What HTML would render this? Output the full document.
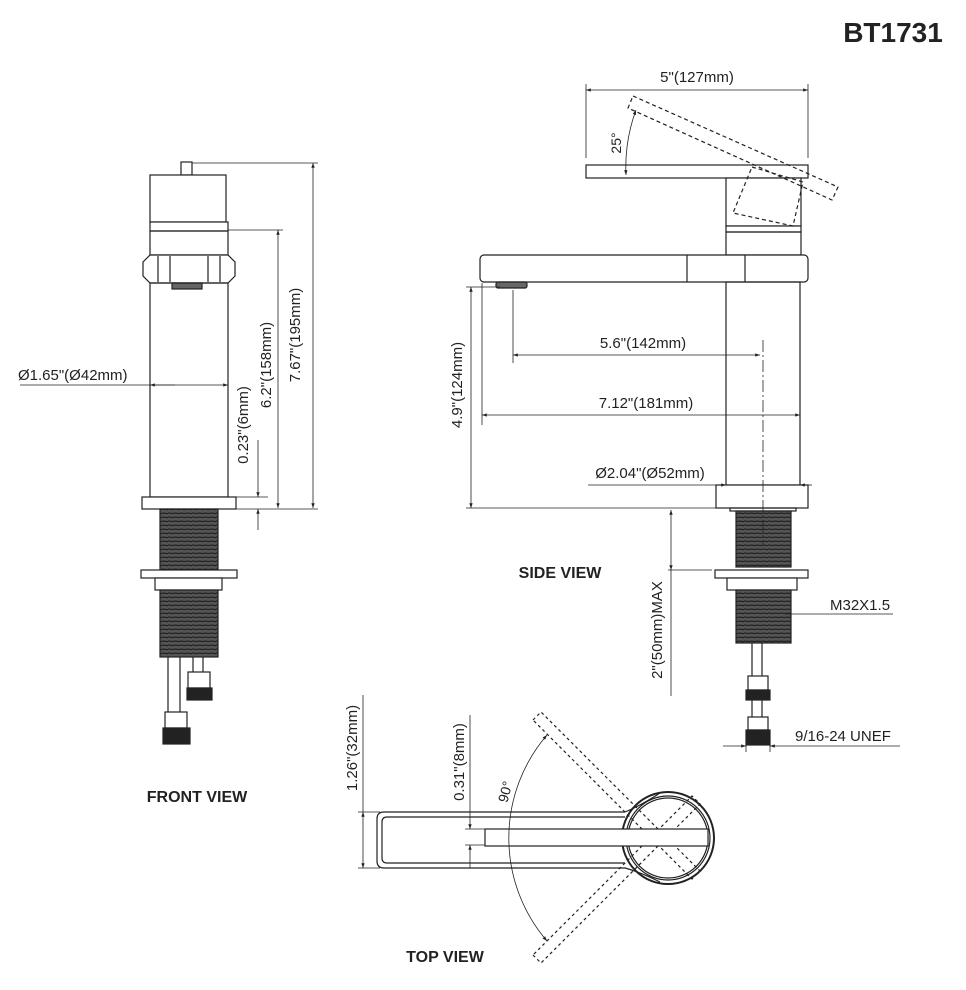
<!DOCTYPE html>
<html><head><meta charset="utf-8"><style>
html,body{margin:0;padding:0;background:#fff;}
svg{display:block}
text{font-family:"Liberation Sans",sans-serif;fill:#222}
</style></head><body>
<svg width="966" height="990" viewBox="0 0 966 990" xmlns="http://www.w3.org/2000/svg">
<defs>
<marker id="a" viewBox="0 0 10 10" refX="10" refY="5" markerWidth="8" markerHeight="6" orient="auto-start-reverse"><path d="M0,1.5 L10,5 L0,8.5z" fill="#222"/></marker>
<pattern id="th" width="6" height="4" patternUnits="userSpaceOnUse"><rect width="6" height="4" fill="#555"/><line x1="0" y1="1" x2="6" y2="1.6" stroke="#222" stroke-width="1.3"/></pattern>
</defs>
<g fill="none" stroke="#222" stroke-width="1.2">
<!-- FRONT VIEW -->
<rect x="181" y="162" width="11" height="13" fill="#fff"/>
<rect x="150" y="175" width="76" height="47" fill="#fff"/>
<rect x="150" y="222" width="78" height="9" fill="#fff"/>
<rect x="150" y="231" width="78" height="24"/>
<path d="M150,255 L228,255 L235,262 L235,276 L228,283 L150,283 L143,276 L143,262z" fill="#fff"/>
<line x1="158" y1="256" x2="158" y2="282"/><line x1="220" y1="256" x2="220" y2="282"/><line x1="170" y1="256" x2="170" y2="282"/><line x1="208" y1="256" x2="208" y2="282"/>
<rect x="172" y="283" width="30" height="6" fill="#666"/>
<rect x="150" y="283" width="78" height="214"/>
<rect x="142" y="497" width="94" height="12" fill="#fff"/>
<rect x="160" y="509" width="58" height="61" fill="url(#th)"/>
<rect x="141" y="570" width="96" height="8" fill="#fff"/>
<rect x="155" y="578" width="67" height="12" fill="#fff"/>
<rect x="160" y="590" width="58" height="67" fill="url(#th)"/>
<line x1="168" y1="657" x2="168" y2="712"/><line x1="180" y1="657" x2="180" y2="712"/>
<line x1="193" y1="657" x2="193" y2="672"/><line x1="203" y1="657" x2="203" y2="672"/>
<rect x="188" y="672" width="22" height="16" fill="#fff"/><rect x="187" y="688" width="25" height="12" fill="#222"/>
<rect x="165" y="712" width="22" height="16" fill="#fff"/><rect x="163" y="728" width="27" height="16" fill="#222"/>
<g stroke-width="0.8">
<line x1="192" y1="163" x2="318" y2="163"/><line x1="313" y1="163" x2="313" y2="508" marker-start="url(#a)" marker-end="url(#a)"/>
<line x1="228" y1="230" x2="283" y2="230"/><line x1="278" y1="230" x2="278" y2="508" marker-start="url(#a)" marker-end="url(#a)"/>
<line x1="236" y1="497" x2="268" y2="497"/><line x1="236" y1="509" x2="318" y2="509"/>
<line x1="258" y1="440" x2="258" y2="497" marker-end="url(#a)"/><line x1="258" y1="530" x2="258" y2="509" marker-end="url(#a)"/>
<line x1="20" y1="385" x2="228" y2="385" marker-end="url(#a)"/><line x1="175" y1="385" x2="150" y2="385" marker-end="url(#a)"/>
</g>
<!-- SIDE VIEW -->
<rect x="586" y="165" width="222" height="13" fill="#fff"/>
<rect x="726" y="178" width="75" height="48" fill="#fff"/>
<rect x="726" y="226" width="75" height="6" fill="#fff"/>
<rect x="726" y="232" width="75" height="23"/>
<rect x="480" y="255" width="328" height="27" rx="4" fill="#fff"/>
<line x1="687" y1="255" x2="687" y2="282"/><line x1="745" y1="255" x2="745" y2="282"/>
<rect x="496" y="282" width="31" height="6" rx="2" fill="#666"/>
<rect x="726" y="282" width="74" height="203"/>
<rect x="716" y="485" width="92" height="23" fill="#fff"/>
<rect x="730" y="508" width="66" height="3"/>
<rect x="736" y="511" width="55" height="56" fill="url(#th)"/>
<rect x="715" y="570" width="93" height="8" fill="#fff"/>
<rect x="727" y="578" width="70" height="12" fill="#fff"/>
<rect x="736" y="590" width="55" height="53" fill="url(#th)"/>
<line x1="752" y1="643" x2="752" y2="717"/><line x1="762" y1="643" x2="762" y2="717"/>
<rect x="748" y="676" width="20" height="14" fill="#fff"/><rect x="746" y="690" width="24" height="10" fill="#222"/>
<rect x="748" y="717" width="20" height="13" fill="#fff"/><rect x="746" y="730" width="24" height="15" fill="#222"/>
<g stroke-dasharray="4,3">
<polygon points="633,96 838,187 832,200 628,108"/>
<polygon points="752,167 803,182 793,226 733,213"/>
</g>
<g stroke-width="0.8">
<line x1="763" y1="340" x2="763" y2="545" stroke-dasharray="12,3,2,3"/>
<line x1="586" y1="84" x2="586" y2="158"/><line x1="808" y1="84" x2="808" y2="158"/>
<line x1="586" y1="90" x2="808" y2="90" marker-start="url(#a)" marker-end="url(#a)"/>
<path d="M626,175 A165,165 0 0 1 636,110" marker-start="url(#a)" marker-end="url(#a)"/>
<line x1="513" y1="290" x2="513" y2="363"/>
<line x1="513" y1="355" x2="760" y2="355" marker-start="url(#a)" marker-end="url(#a)"/>
<line x1="482" y1="283" x2="482" y2="425"/>
<line x1="482" y1="415" x2="800" y2="415" marker-start="url(#a)" marker-end="url(#a)"/>
<line x1="466" y1="287" x2="500" y2="287"/><line x1="466" y1="508" x2="716" y2="508"/>
<line x1="471" y1="287" x2="471" y2="508" marker-start="url(#a)" marker-end="url(#a)"/>
<line x1="588" y1="485" x2="726" y2="485"/><line x1="716" y1="485" x2="726" y2="485" marker-end="url(#a)"/><line x1="812" y1="485" x2="800" y2="485" marker-end="url(#a)"/>
<line x1="668" y1="570" x2="712" y2="570"/>
<line x1="671" y1="510" x2="671" y2="570" marker-start="url(#a)" marker-end="url(#a)"/>
<line x1="671" y1="570" x2="671" y2="696"/>
<line x1="785" y1="614" x2="893" y2="614"/>
<line x1="723" y1="746" x2="746" y2="746" marker-end="url(#a)"/><line x1="900" y1="746" x2="770" y2="746" marker-end="url(#a)"/>
<line x1="746" y1="740" x2="746" y2="752"/><line x1="770" y1="740" x2="770" y2="752"/>
</g>
<!-- TOP VIEW -->
<path d="M625,812 L384,812 Q377,812 377,819 L377,861 Q377,868 384,868 L625,868 Q640,872 660,882" />
<path d="M625,812 Q640,806 660,793"/>
<path d="M625,817 L387,817 Q382,817 382,822 L382,858 Q382,863 387,863 L625,863"/>
<circle cx="668" cy="838" r="46" stroke-width="2"/>
<circle cx="668" cy="838" r="42"/>
<circle cx="668" cy="838" r="40" fill="#fff"/>
<g stroke-dasharray="3,3">
<polygon points="533,720 541,712 700,871 692,879"/>
<polygon points="533,955 541,963 700,804 692,796"/>
</g>
<rect x="485" y="829" width="223" height="17" fill="#fff"/>
<g stroke-width="0.8">
<line x1="358" y1="812" x2="380" y2="812"/><line x1="358" y1="868" x2="380" y2="868"/>
<line x1="363" y1="812" x2="363" y2="868" marker-start="url(#a)" marker-end="url(#a)"/>
<line x1="363" y1="695" x2="363" y2="812"/>
<line x1="465" y1="829" x2="485" y2="829"/><line x1="465" y1="845" x2="485" y2="845"/>
<line x1="470" y1="715" x2="470" y2="829" marker-end="url(#a)"/>
<line x1="470" y1="868" x2="470" y2="845" marker-end="url(#a)"/>
<path d="M547,735 A158,158 0 0 0 547,941" marker-start="url(#a)" marker-end="url(#a)"/>
</g>
</g>
<!-- TEXT -->
<text x="893" y="42" font-size="28" font-weight="bold" text-anchor="middle">BT1731</text>
<text x="18" y="380" font-size="15">Ø1.65"(Ø42mm)</text>
<text transform="translate(300,335) rotate(-90)" font-size="15" text-anchor="middle">7.67"(195mm)</text>
<text transform="translate(271,365) rotate(-90)" font-size="15" text-anchor="middle">6.2"(158mm)</text>
<text transform="translate(248,425) rotate(-90)" font-size="15" text-anchor="middle">0.23"(6mm)</text>
<text x="197" y="802" font-size="16" font-weight="bold" text-anchor="middle">FRONT VIEW</text>
<text x="697" y="82" font-size="15" text-anchor="middle">5"(127mm)</text>
<text transform="translate(621,143) rotate(-90)" font-size="14" text-anchor="middle">25°</text>
<text x="643" y="348" font-size="15" text-anchor="middle">5.6"(142mm)</text>
<text x="646" y="408" font-size="15" text-anchor="middle">7.12"(181mm)</text>
<text transform="translate(462,385) rotate(-90)" font-size="15" text-anchor="middle">4.9"(124mm)</text>
<text x="650" y="478" font-size="15" text-anchor="middle">Ø2.04"(Ø52mm)</text>
<text x="560" y="578" font-size="16" font-weight="bold" text-anchor="middle">SIDE VIEW</text>
<text transform="translate(662,630) rotate(-90)" font-size="15" text-anchor="middle">2"(50mm)MAX</text>
<text x="830" y="610" font-size="15">M32X1.5</text>
<text x="795" y="741" font-size="15">9/16-24 UNEF</text>
<text transform="translate(357,748) rotate(-90)" font-size="15" text-anchor="middle">1.26"(32mm)</text>
<text transform="translate(464,762) rotate(-90)" font-size="15" text-anchor="middle">0.31"(8mm)</text>
<text transform="translate(510,793) rotate(-75)" font-size="14" text-anchor="middle">90°</text>
<text x="445" y="962" font-size="16" font-weight="bold" text-anchor="middle">TOP VIEW</text>
</svg>
</body></html>
